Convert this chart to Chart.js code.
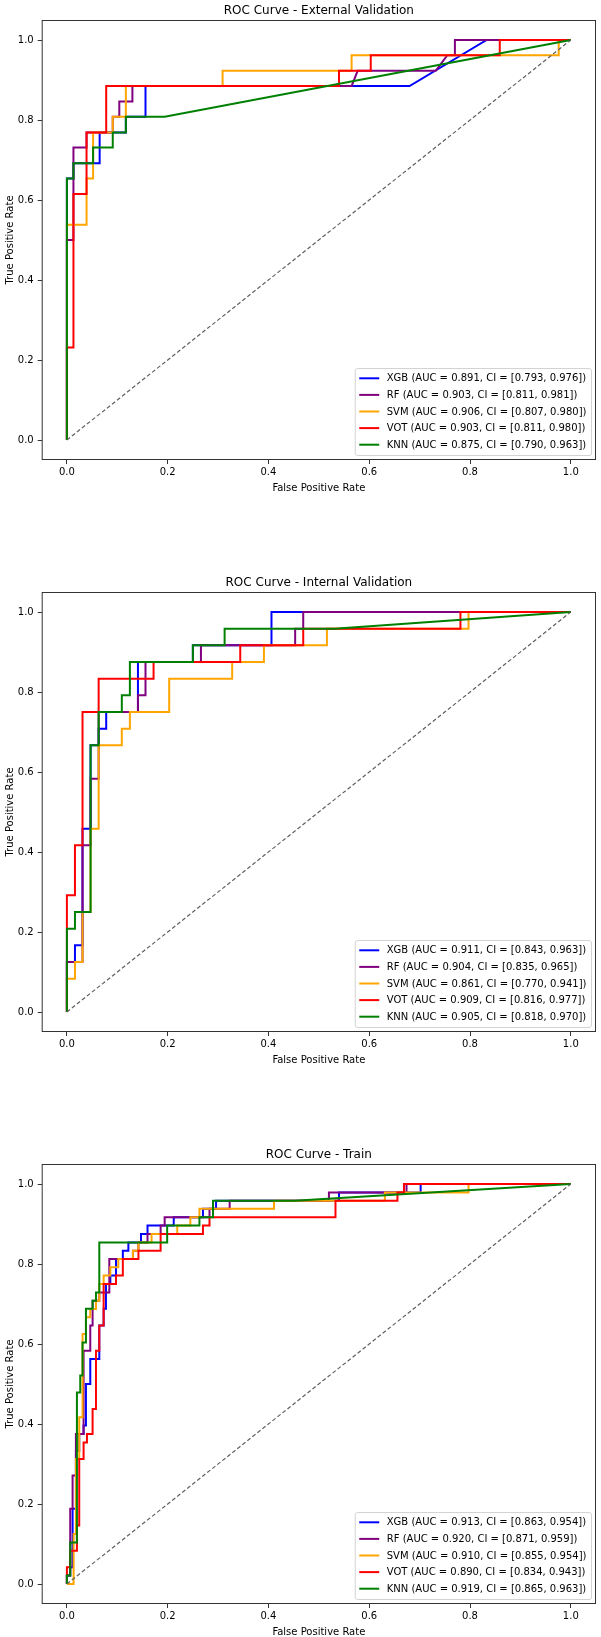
<!DOCTYPE html>
<html>
<head>
<meta charset="utf-8">
<script src="https://cdn.jsdelivr.net/npm/chart.js@4.4.1/dist/chart.umd.min.js"></script>
<style>
html,body{margin:0;padding:0;background:#fff;width:601px;height:1637px;overflow:hidden;}
.panel{position:absolute;left:0;width:601px;height:494px;}
canvas{display:block;}
</style>
</head>
<body>
<div class="panel" style="top:0px"><canvas id="c0" width="601" height="494"></canvas></div>
<div class="panel" style="top:572px"><canvas id="c1" width="601" height="494"></canvas></div>
<div class="panel" style="top:1144px"><canvas id="c2" width="601" height="494"></canvas></div>
<script>
// ---------- categories / tick labels ----------
const models = ['XGB', 'RF', 'SVM', 'VOT', 'KNN'];
const tickValues = [0.0, 0.2, 0.4, 0.6, 0.8, 1.0];
const titles = ['ROC Curve - External Validation', 'ROC Curve - Internal Validation', 'ROC Curve - Train'];
const diagFpr = [0, 1];
const diagTpr = [0, 1];

// ---------- External validation ----------
const extXgbFpr = [0,0,0.013,0.013,0.065,0.065,0.117,0.117,0.156,0.156,0.680,0.833,1];
const extXgbTpr = [0,0.654,0.654,0.692,0.692,0.769,0.769,0.808,0.808,0.885,0.885,1,1];
const extRfFpr  = [0,0,0.013,0.013,0.039,0.039,0.091,0.091,0.104,0.104,0.130,0.130,0.565,0.577,0.732,0.755,0.770,0.770,1];
const extRfTpr  = [0,0.500,0.500,0.731,0.731,0.769,0.769,0.808,0.808,0.846,0.846,0.885,0.885,0.923,0.923,0.962,0.962,1,1];
const extSvmFpr = [0,0,0.039,0.039,0.052,0.052,0.091,0.091,0.117,0.117,0.309,0.309,0.565,0.565,0.976,0.976,1];
const extSvmTpr = [0,0.538,0.538,0.654,0.654,0.769,0.769,0.808,0.808,0.885,0.885,0.923,0.923,0.962,0.962,1,1];
const extVotFpr = [0,0,0.013,0.013,0.039,0.039,0.078,0.078,0.540,0.540,0.603,0.603,0.859,0.859,1];
const extVotTpr = [0,0.231,0.231,0.615,0.615,0.769,0.769,0.885,0.885,0.923,0.923,0.962,0.962,1,1];
const extKnnFpr = [0,0,0.013,0.013,0.052,0.052,0.091,0.091,0.117,0.117,0.194,1];
const extKnnTpr = [0,0.654,0.654,0.692,0.692,0.731,0.731,0.769,0.769,0.808,0.808,1];
const extAuc  = [0.891, 0.903, 0.906, 0.903, 0.875];
const extCiLo = [0.793, 0.811, 0.807, 0.811, 0.790];
const extCiHi = [0.976, 0.981, 0.980, 0.980, 0.963];

// ---------- Internal validation ----------
const intXgbFpr = [0,0,0.016,0.016,0.031,0.031,0.047,0.047,0.063,0.063,0.078,0.078,0.141,0.141,0.250,0.250,0.406,0.406,1];
const intXgbTpr = [0,0.125,0.125,0.167,0.167,0.458,0.458,0.667,0.667,0.708,0.708,0.750,0.750,0.875,0.875,0.917,0.917,1,1];
const intRfFpr  = [0,0,0.031,0.031,0.047,0.047,0.063,0.063,0.141,0.141,0.156,0.156,0.266,0.266,0.453,0.453,0.469,0.469,1];
const intRfTpr  = [0,0.125,0.125,0.417,0.417,0.583,0.583,0.750,0.750,0.792,0.792,0.875,0.875,0.917,0.917,0.958,0.958,1,1];
const intSvmFpr = [0,0,0.016,0.016,0.031,0.031,0.047,0.047,0.063,0.063,0.109,0.109,0.125,0.125,0.203,0.203,0.328,0.328,0.391,0.391,0.516,0.516,0.797,0.797,1];
const intSvmTpr = [0,0.083,0.083,0.125,0.125,0.250,0.250,0.458,0.458,0.667,0.667,0.708,0.708,0.750,0.750,0.833,0.833,0.875,0.875,0.917,0.917,0.958,0.958,1,1];
const intVotFpr = [0,0,0.016,0.016,0.031,0.031,0.063,0.063,0.172,0.172,0.344,0.344,0.469,0.469,0.781,0.781,1];
const intVotTpr = [0,0.292,0.292,0.417,0.417,0.750,0.750,0.833,0.833,0.875,0.875,0.917,0.917,0.958,0.958,1,1];
const intKnnFpr = [0,0,0.016,0.016,0.047,0.047,0.063,0.063,0.109,0.109,0.125,0.125,0.250,0.250,0.313,0.313,0.531,1];
const intKnnTpr = [0,0.208,0.208,0.250,0.250,0.667,0.667,0.750,0.750,0.792,0.792,0.875,0.875,0.917,0.917,0.958,0.958,1];
const intAuc  = [0.911, 0.904, 0.861, 0.909, 0.905];
const intCiLo = [0.843, 0.835, 0.770, 0.816, 0.818];
const intCiHi = [0.963, 0.965, 0.941, 0.977, 0.970];

// ---------- Train ----------
const trnXgbFpr = [0,0,0.0066,0.0066,0.0113,0.0113,0.0179,0.0179,0.0245,0.0245,0.0331,0.0331,0.0378,0.0378,0.0464,0.0464,0.0643,0.0643,0.0729,0.0729,0.0775,0.0775,0.0862,0.0862,0.0974,0.0974,0.111,0.111,0.122,0.122,0.147,0.147,0.160,0.160,0.212,0.212,0.270,0.270,0.296,0.296,0.540,0.540,0.702,0.702,1];
const trnXgbTpr = [0,0.021,0.021,0.042,0.042,0.188,0.188,0.333,0.333,0.375,0.375,0.396,0.396,0.500,0.500,0.5625,0.5625,0.646,0.646,0.688,0.688,0.750,0.750,0.771,0.771,0.8125,0.8125,0.833,0.833,0.854,0.854,0.875,0.875,0.896,0.896,0.917,0.917,0.938,0.938,0.958,0.958,0.979,0.979,1,1];
const trnRfFpr  = [0,0,0.0066,0.0066,0.0113,0.0113,0.0179,0.0179,0.0331,0.0331,0.0464,0.0464,0.051,0.051,0.0643,0.0643,0.0842,0.0842,0.131,0.131,0.142,0.142,0.160,0.160,0.186,0.186,0.194,0.194,0.283,0.283,0.323,0.323,0.520,0.520,0.674,0.674,1];
const trnRfTpr  = [0,0.021,0.021,0.188,0.188,0.271,0.271,0.375,0.375,0.583,0.583,0.646,0.646,0.708,0.708,0.729,0.729,0.8125,0.8125,0.833,0.833,0.854,0.854,0.875,0.875,0.896,0.896,0.917,0.917,0.938,0.938,0.958,0.958,0.979,0.979,1,1];
const trnSvmFpr = [0,0.0133,0.0133,0.0179,0.0179,0.0245,0.0245,0.0311,0.0311,0.0378,0.0378,0.0464,0.0464,0.0577,0.0577,0.0643,0.0643,0.0729,0.0729,0.0862,0.0862,0.102,0.102,0.131,0.131,0.142,0.142,0.168,0.168,0.219,0.219,0.245,0.245,0.263,0.263,0.411,0.411,0.631,0.631,0.797,0.797,1];
const trnSvmTpr = [0,0,0.125,0.125,0.3125,0.3125,0.417,0.417,0.625,0.625,0.667,0.667,0.6875,0.6875,0.708,0.708,0.750,0.750,0.771,0.771,0.792,0.792,0.8125,0.8125,0.833,0.833,0.854,0.854,0.875,0.875,0.896,0.896,0.917,0.917,0.938,0.938,0.958,0.958,0.979,0.979,1,1];
const trnVotFpr = [0,0,0.0066,0.0066,0.0199,0.0199,0.0245,0.0245,0.0331,0.0331,0.0398,0.0398,0.051,0.051,0.0577,0.0577,0.0643,0.0643,0.0729,0.0729,0.0974,0.0974,0.111,0.111,0.142,0.142,0.186,0.186,0.270,0.270,0.283,0.283,0.533,0.533,0.656,0.656,0.669,0.669,1];
const trnVotTpr = [0,0.042,0.042,0.083,0.083,0.146,0.146,0.3125,0.3125,0.354,0.354,0.375,0.375,0.4375,0.4375,0.583,0.583,0.646,0.646,0.750,0.750,0.771,0.771,0.8125,0.8125,0.833,0.833,0.875,0.875,0.896,0.896,0.917,0.917,0.958,0.958,0.979,0.979,1,1];
const trnKnnFpr = [0,0,0.0066,0.0066,0.0199,0.0199,0.0265,0.0265,0.031,0.031,0.0378,0.0378,0.051,0.051,0.0577,0.0577,0.0643,0.0643,0.199,0.199,0.263,0.263,0.290,0.290,0.452,1];
const trnKnnTpr = [0,0.021,0.021,0.104,0.104,0.479,0.479,0.521,0.521,0.604,0.604,0.688,0.688,0.708,0.708,0.729,0.729,0.854,0.854,0.896,0.896,0.917,0.917,0.958,0.958,1];
const trnAuc  = [0.913, 0.920, 0.910, 0.890, 0.919];
const trnCiLo = [0.863, 0.871, 0.855, 0.834, 0.865];
const trnCiHi = [0.954, 0.959, 0.954, 0.943, 0.963];

// ---------- styles ----------
const lineColors = ['#0000ff', '#800080', '#ffa500', '#ff0000', '#008000'];
const FONT = '"DejaVu Sans", "Liberation Sans", sans-serif';
Chart.defaults.font.family = FONT;
Chart.defaults.color = '#000';

const decor = {
  id: 'decor',
  afterDatasetsDraw(chart, args, opts) {
    const ctx = chart.ctx, a = chart.chartArea;
    ctx.save();
    // frame
    ctx.strokeStyle = '#333';
    ctx.lineWidth = 1;
    ctx.strokeRect(a.left + 0.5, a.top + 0.5, a.right - a.left - 1, a.bottom - a.top - 1);
    // legend
    const fs = 10, rowH = 11.6, gap = 5, pad = 4.5, hLen = 20, hPad = 7.5;
    ctx.font = fs + 'px ' + FONT;
    let tw = 0;
    opts.labels.forEach(t => { tw = Math.max(tw, ctx.measureText(t).width); });
    const bw = pad + hLen + hPad + tw + pad;
    const bh = 2 * pad + opts.labels.length * rowH + (opts.labels.length - 1) * gap;
    const bx = a.right - 5 - bw, by = a.bottom - 5 - bh;
    ctx.beginPath();
    if (ctx.roundRect) ctx.roundRect(bx + 0.5, by + 0.5, bw, bh, 2.5); else ctx.rect(bx + 0.5, by + 0.5, bw, bh);
    ctx.fillStyle = 'rgba(255,255,255,0.85)';
    ctx.fill();
    ctx.strokeStyle = '#d3d3d3';
    ctx.lineWidth = 1;
    ctx.stroke();
    ctx.textAlign = 'left';
    ctx.textBaseline = 'middle';
    opts.labels.forEach((t, i) => {
      const cy = by + pad + rowH / 2 + i * (rowH + gap);
      ctx.strokeStyle = opts.colors[i];
      ctx.lineWidth = 2;
      ctx.beginPath();
      ctx.moveTo(bx + pad, cy);
      ctx.lineTo(bx + pad + hLen, cy);
      ctx.stroke();
      ctx.fillStyle = '#000';
      ctx.fillText(t, bx + pad + hLen + hPad, cy + 0.5);
    });
    // title
    ctx.font = '12px ' + FONT;
    ctx.textAlign = 'center';
    ctx.textBaseline = 'alphabetic';
    ctx.fillStyle = '#000';
    ctx.fillText(opts.title, (a.left + a.right) / 2, a.top - 6);
    ctx.restore();
  }
};

function pts(xs, ys) { return xs.map((x, i) => ({x: x, y: ys[i]})); }

function axis(titleText, isY) {
  return {
    type: 'linear', min: -0.05, max: 1.05,
    afterBuildTicks: s => { s.ticks = tickValues.map(v => ({value: v})); },
    afterFit: s => { if (isY) s.width = 41.7; else s.height = 34; },
    ticks: {callback: v => Number(v).toFixed(1), font: {size: 10}, color: '#000',
            padding: isY ? 4 : 2, maxRotation: 0, autoSkip: false},
    grid: {display: true, drawOnChartArea: false, drawTicks: true, tickLength: 4, color: '#333', lineWidth: 1},
    border: {display: false},
    title: {display: true, text: titleText, font: {size: 10}, color: '#000',
            padding: isY ? {top: 4, bottom: 0} : {top: 0, bottom: 0}}
  };
}

function makeChart(id, title, fprs, tprs, auc, lo, hi) {
  const datasets = fprs.map((f, i) => ({
    label: models[i],
    data: pts(f, tprs[i]),
    borderColor: lineColors[i],
    borderWidth: 2,
    pointRadius: 0,
    fill: false,
    tension: 0,
    showLine: true,
    order: 5 - i
  }));
  datasets.push({
    label: 'diag', data: pts(diagFpr, diagTpr), borderColor: '#606060', borderWidth: 1.2,
    borderDash: [4, 2.4], pointRadius: 0, showLine: true, fill: false, order: 0
  });
  const labels = models.map((m, i) => m + ' (AUC = ' + auc[i].toFixed(3) + ', CI = [' + lo[i].toFixed(3) + ', ' + hi[i].toFixed(3) + '])');
  new Chart(document.getElementById(id), {
    type: 'scatter',
    data: {datasets: datasets},
    options: {
      responsive: false, animation: false, events: [],
      layout: {padding: {top: 20, right: 5, left: 0, bottom: 0}},
      plugins: {legend: {display: false}, tooltip: {enabled: false},
                decor: {title: title, labels: labels, colors: lineColors}},
      scales: {x: axis('False Positive Rate', false), y: axis('True Positive Rate', true)}
    },
    plugins: [decor]
  });
}

makeChart('c0', titles[0], [extXgbFpr, extRfFpr, extSvmFpr, extVotFpr, extKnnFpr],
          [extXgbTpr, extRfTpr, extSvmTpr, extVotTpr, extKnnTpr], extAuc, extCiLo, extCiHi);
makeChart('c1', titles[1], [intXgbFpr, intRfFpr, intSvmFpr, intVotFpr, intKnnFpr],
          [intXgbTpr, intRfTpr, intSvmTpr, intVotTpr, intKnnTpr], intAuc, intCiLo, intCiHi);
makeChart('c2', titles[2], [trnXgbFpr, trnRfFpr, trnSvmFpr, trnVotFpr, trnKnnFpr],
          [trnXgbTpr, trnRfTpr, trnSvmTpr, trnVotTpr, trnKnnTpr], trnAuc, trnCiLo, trnCiHi);
</script>
</body>
</html>
